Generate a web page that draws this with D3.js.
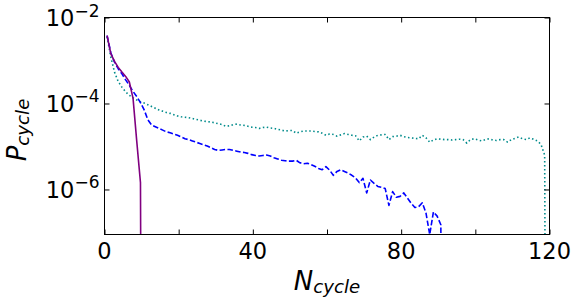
<!DOCTYPE html>
<html><head><meta charset="utf-8">
<script src="https://cdn.jsdelivr.net/npm/d3@7"></script>
<style>
body{margin:0;background:#fff}
svg{display:block}
text{font-family:"DejaVu Sans",sans-serif;fill:#000}
</style>
</head><body>
<svg id="chart" width="580" height="306"></svg>
<script>
// ---- data ----
const xTicks = [0, 20, 40, 60, 80, 100, 120];
const xTickLabels = ["0", "", "40", "", "80", "", "120"];
const yTicks = [1e-2, 1e-4, 1e-6];
const yTickExponents = ["\u22122", "\u22124", "\u22126"];
const firstCycle = 0.7;          // N_cycle of the first point of each series
const zeroLog10 = -30;           // probability 0 (clipped on the log axis)

// log10(P_cycle) per cycle, starting at firstCycle, step 1
const solidLog10 = [-2.42,-2.84,-3.02,-3.16,-3.27,-3.37,-3.50,-3.88,-4.88,-5.84, zeroLog10];

const dashedLog10 = [
 -2.42,-2.82,-3.04,-3.19,-3.31,-3.45,-3.58,-3.72,-3.84,-3.98,
 -4.15,-4.38,-4.50,-4.54,-4.58,-4.62,-4.66,-4.68,-4.71,-4.74,
 -4.78,-4.82,-4.84,-4.87,-4.90,-4.93,-4.96,-4.99,-5.03,-5.07,
 -5.09,-5.08,-5.07,-5.07,-5.09,-5.11,-5.13,-5.14,-5.16,-5.19,
 -5.21,-5.22,-5.21,-5.20,-5.22,-5.26,-5.29,-5.32,-5.33,-5.34,
 -5.34,-5.32,-5.38,-5.40,-5.39,-5.42,-5.46,-5.51,-5.54,-5.47,
 -5.55,-5.67,-5.58,-5.54,-5.58,-5.62,-5.67,-5.73,-5.84,-5.74,
 -6.08,-5.78,-5.86,-5.93,-5.95,-5.98,-6.37,-6.05,-6.18,-6.16,
 -6.08,-6.20,-6.32,-6.42,-6.40,-6.31,-6.55,-7.05,-6.52,-6.62,
 -6.82, zeroLog10];

const dottedLog10 = [
 -2.45,-2.92,-3.27,-3.49,-3.62,-3.73,-3.81,-3.87,-3.92,-3.96,
 -3.99,-4.03,-4.07,-4.11,-4.15,-4.18,-4.21,-4.23,-4.26,-4.29,
 -4.31,-4.32,-4.33,-4.35,-4.37,-4.39,-4.41,-4.42,-4.43,-4.45,
 -4.47,-4.49,-4.53,-4.52,-4.49,-4.48,-4.50,-4.51,-4.53,-4.55,
 -4.56,-4.58,-4.56,-4.55,-4.57,-4.58,-4.60,-4.62,-4.64,-4.63,
 -4.63,-4.69,-4.66,-4.64,-4.64,-4.64,-4.65,-4.66,-4.69,-4.74,
 -4.71,-4.72,-4.76,-4.73,-4.70,-4.72,-4.74,-4.75,-4.87,-4.78,
 -4.76,-4.84,-4.78,-4.74,-4.73,-4.72,-4.84,-4.77,-4.76,-4.74,
 -4.77,-4.79,-4.80,-4.81,-4.82,-4.74,-4.80,-4.90,-4.85,-4.82,
 -4.83,-4.84,-4.84,-4.85,-4.84,-4.83,-4.84,-4.92,-4.84,-4.82,
 -4.85,-4.87,-4.84,-4.82,-4.85,-4.86,-4.84,-4.84,-4.90,-4.84,
 -4.81,-4.78,-4.82,-4.84,-4.80,-4.83,-4.87,-4.95,-5.20, zeroLog10];

// drawing order: dotted, dashed, solid (solid on top)
const seriesNames = ["dotted", "dashed", "solid"];
const seriesColors = ["#008b8b", "#0000ff", "#800080"];
const seriesDash = ["1.5,2.5", "5.5,2.4", null];

// ---- drawing ----
const svg = d3.select("#chart");
const L = 104.5, R = 549.5, T = 17.5, B = 234.5;
const x = d3.scaleLinear().domain([0, 120]).range([L, R]);
const y = d3.scaleLog().domain([8.97e-8, 1e-2]).range([B, T]);

svg.append("defs").append("clipPath").attr("id", "clip")
  .append("rect").attr("x", L).attr("y", T).attr("width", R - L).attr("height", B - T);

const allSeries = [dottedLog10, dashedLog10, solidLog10];
const line = d3.line().x(d => x(d[0])).y(d => y(d[1]));
const plot = svg.append("g").attr("clip-path", "url(#clip)");
allSeries.forEach((arr, k) => {
  const pts = arr.map((v, i) => [firstCycle + i, Math.pow(10, v)]);
  plot.append("path").datum(pts)
    .attr("class", seriesNames[k])
    .attr("d", line)
    .attr("fill", "none")
    .attr("stroke", seriesColors[k])
    .attr("stroke-width", 1.6)
    .attr("stroke-dasharray", seriesDash[k])
    .attr("stroke-linejoin", "round");
});

// ticks (inward, all four sides)
const tl = 5;
svg.append("g").attr("transform", `translate(0,${B})`)
  .call(d3.axisBottom(x).tickValues(xTicks).tickSize(-tl).tickFormat(""));
svg.append("g").attr("transform", `translate(0,${T})`)
  .call(d3.axisTop(x).tickValues(xTicks).tickSize(-tl).tickFormat(""));
svg.append("g").attr("transform", `translate(${L},0)`)
  .call(d3.axisLeft(y).tickValues(yTicks).tickSize(-tl).tickFormat(""));
svg.append("g").attr("transform", `translate(${R},0)`)
  .call(d3.axisRight(y).tickValues(yTicks).tickSize(-tl).tickFormat(""));
svg.selectAll(".domain").remove();
svg.selectAll(".tick line").attr("stroke", "#000").attr("stroke-width", 1);

// frame
svg.append("rect").attr("x", L).attr("y", T).attr("width", R - L).attr("height", B - T)
  .attr("fill", "none").attr("stroke", "#000").attr("stroke-width", 1);

// x tick labels
svg.append("g").selectAll("text").data(xTicks).join("text")
  .attr("x", d => x(d)).attr("y", 258.5)
  .attr("text-anchor", "middle").style("font-size", "22.5px")
  .text((d, i) => xTickLabels[i]);

// y tick labels 10^{-n}
yTicks.forEach((v, i) => {
  const t = svg.append("text")
    .attr("x", 99.5).attr("y", y(v) + 8.5)
    .attr("text-anchor", "end").style("font-size", "22.5px");
  t.append("tspan").text("10");
  t.append("tspan").attr("dy", -9.5).style("font-size", "17px").text(yTickExponents[i]);
});

// axis titles
const xt = svg.append("text").attr("x", (L + R) / 2).attr("y", 290)
  .attr("text-anchor", "middle").style("font-size", "26px").style("font-style", "italic");
xt.append("tspan").text("N");
xt.append("tspan").attr("dy", 3).style("font-size", "18.2px").text("cycle");

const yt = svg.append("text").attr("transform", "translate(26,130) rotate(-90)")
  .attr("text-anchor", "middle").style("font-size", "26px").style("font-style", "italic");
yt.append("tspan").text("P");
yt.append("tspan").attr("dy", 3).style("font-size", "18.2px").text("cycle");
</script>
</body></html>
